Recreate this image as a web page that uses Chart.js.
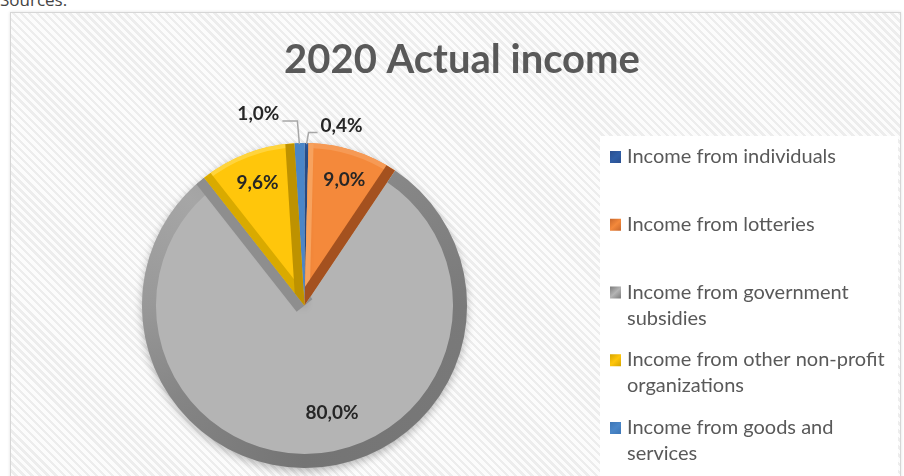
<!DOCTYPE html>
<html>
<head>
<meta charset="utf-8">
<script src="https://cdn.jsdelivr.net/npm/chart.js@4.4.1/dist/chart.umd.min.js"></script>
<style>
html,body{margin:0;padding:0;width:904px;height:476px;overflow:hidden;background:#fff;}
#src{position:absolute;left:0;top:-9px;font:17px/17px "Open Sans",sans-serif;color:#444;}
#frame{position:absolute;left:10px;top:12px;width:889px;height:480px;border:1px solid #d6d6d6;box-shadow:0 0 3px rgba(0,0,0,0.12);
 background:repeating-linear-gradient(45deg,#fcfcfc 0px,#fcfcfc 3.2px,#ededed 3.2px,#ededed 5.7px);}
#legbox{position:absolute;left:600px;top:136px;width:298px;height:340px;background:#fff;}
#wrap{position:absolute;left:0;top:0;width:904px;height:476px;}
</style>
</head>
<body>
<div id="src">Sources:</div>
<div id="frame"></div>
<div id="legbox"></div>
<div id="wrap"><canvas id="c"></canvas></div>
<script>
// ---- data ----
const chartTitle = '2020 Actual income';
const categories = [
  'Income from individuals',
  'Income from lotteries',
  'Income from government subsidies',
  'Income from other non-profit organizations',
  'Income from goods and services'
];
const shares = [0.4, 9.0, 80.0, 9.6, 1.0];

// ---- styles ----
const faceColors   = ['#2F5EA6', '#F4893B', '#B4B4B4', '#FFC60B', '#4A86C8'];
const markerColors = ['#2B4F8F', '#C8672C', '#7B7B7B', '#D5A400', '#3D76B6'];
const fmt = v => v.toFixed(1).replace('.', ',') + '%';

const bevels = [
  null,
  {outer:5, outerColor:'#F69A55', start:5, startColor:'#F7A25E', end:10, endColor:'#A4511F'},
  {outer:14, outerColor:'conic', start:0, end:10, endColor:'#8E8E8E'},
  {outer:4, outerColor:'#FFD43C', start:8, startColor:'#D9AA00', end:9, endColor:'#BE9200'},
  null
];
const labelPlacement = [
  {outside:true, dx:35, dy:-17, lineDy:6.5},
  {r:0.81, shift:0},
  {r:0.683, shift:-12.2},
  {r:0.81, shift:0},
  {outside:true, dx:-41, dy:-29, lineDy:7}
];

const decor = {
  id:'decor',
  beforeDatasetsDraw(chart){
    const ctx = chart.ctx;
    ctx.save();
    ctx.shadowColor = 'rgba(0,0,0,0.28)';
    ctx.shadowBlur = 8;
    ctx.shadowOffsetY = 3;
  },
  afterDatasetsDraw(chart){
    const ctx = chart.ctx;
    ctx.restore();
    const meta = chart.getDatasetMeta(0);
    meta.data.forEach((arc, i) => {
      const b = bevels[i];
      if (!b) return;
      const p = arc.getProps(['x','y','startAngle','endAngle','outerRadius'], true);
      const {x, y, startAngle:s, endAngle:e, outerRadius:R} = p;
      ctx.save();
      ctx.beginPath(); ctx.moveTo(x, y); ctx.arc(x, y, R, s, e); ctx.closePath(); ctx.clip();
      if (b.outer) {
        let col = b.outerColor;
        if (col === 'conic') {
          const g = ctx.createConicGradient(0, x, y);
          g.addColorStop(0, '#7A7A7A');
          g.addColorStop(0.25, '#747474');
          g.addColorStop(0.4, '#858585');
          g.addColorStop(0.5, '#989898');
          g.addColorStop(0.62, '#A6A6A6');
          g.addColorStop(0.82, '#8A8A8A');
          g.addColorStop(1, '#7A7A7A');
          col = g;
        }
        ctx.beginPath(); ctx.arc(x, y, R, s, e);
        ctx.lineWidth = b.outer * 2; ctx.strokeStyle = col; ctx.stroke();
      }
      if (b.start) {
        ctx.beginPath(); ctx.moveTo(x, y); ctx.lineTo(x + R*Math.cos(s), y + R*Math.sin(s));
        ctx.lineWidth = b.start * 2; ctx.strokeStyle = b.startColor; ctx.stroke();
      }
      if (b.end) {
        ctx.beginPath(); ctx.moveTo(x, y); ctx.lineTo(x + R*Math.cos(e), y + R*Math.sin(e));
        ctx.lineWidth = b.end * 2; ctx.strokeStyle = b.endColor; ctx.stroke();
      }
      ctx.restore();
    });

    // data labels
    ctx.save();
    ctx.font = 'bold 19px Lato';
    ctx.fillStyle = '#262626';
    ctx.textAlign = 'center';
    ctx.textBaseline = 'middle';
    meta.data.forEach((arc, i) => {
      const pl = labelPlacement[i];
      const p = arc.getProps(['x','y','startAngle','endAngle','outerRadius'], true);
      const mid = (p.startAngle + p.endAngle) / 2;
      const txt = fmt(shares[i]);
      if (pl.outside) {
        const ax = p.x + p.outerRadius*Math.cos(mid);
        const ay = p.y + p.outerRadius*Math.sin(mid);
        const lx = ax + pl.dx, ly = ay + pl.dy;
        const w = ctx.measureText(txt).width;
        const side = pl.dx > 0 ? 1 : -1;
        const ly2 = ly + pl.lineDy;
        ctx.save();
        ctx.strokeStyle = '#A6A6A6'; ctx.lineWidth = 1.5;
        ctx.beginPath();
        ctx.moveTo(lx - side*(w/2 + 3), ly2);
        ctx.lineTo(ax + side*2, ly2);
        ctx.lineTo(ax, ay + 1);
        ctx.stroke();
        ctx.restore();
        ctx.fillText(txt, lx, ly);
      } else {
        const a = mid + pl.shift*Math.PI/180;
        const r = pl.r * p.outerRadius;
        ctx.fillText(txt, p.x + r*Math.cos(a), p.y + r*Math.sin(a));
      }
    });
    ctx.restore();
  },
  afterDraw(chart){
    const ctx = chart.ctx;
    ctx.save();
    // title
    ctx.font = 'bold 40px Lato';
    ctx.fillStyle = '#595959';
    ctx.textAlign = 'center';
    ctx.textBaseline = 'alphabetic';
    ctx.fillText(chartTitle, 462, 73);
    // legend
    ctx.font = '20px Lato';
    ctx.textAlign = 'left';
    const maxW = 268;
    categories.forEach((cat, i) => {
      const base = 163 + i*67.75;
      const words = cat.split(' ');
      const lines = [];
      let cur = '';
      words.forEach(wd => {
        const t = cur ? cur + ' ' + wd : wd;
        if (ctx.measureText(t).width > maxW && cur) { lines.push(cur); cur = wd; }
        else cur = t;
      });
      lines.push(cur);
      const mx = 610, my = base - 12;
      const g = ctx.createLinearGradient(mx, my, mx + 11, my + 12);
      g.addColorStop(0, markerColors[i]);
      g.addColorStop(0.5, faceColors[i]);
      g.addColorStop(1, markerColors[i]);
      ctx.fillStyle = g;
      ctx.fillRect(mx, my, 11, 12);
      ctx.fillStyle = '#595959';
      lines.forEach((ln, k) => ctx.fillText(ln, 627, base + k*26));
    });
    ctx.restore();
  }
};

new Chart(document.getElementById('c'), {
  type: 'pie',
  data: {
    labels: categories,
    datasets: [{
      data: shares,
      backgroundColor: faceColors,
      borderWidth: 0,
      hoverOffset: 0
    }]
  },
  options: {
    responsive: true,
    maintainAspectRatio: false,
    animation: false,
    events: [],
    layout: {padding: {left: 142, right: 437, top: 143, bottom: 8}},
    plugins: {legend: {display: false}, tooltip: {enabled: false}, title: {display: false}}
  },
  plugins: [decor]
});
</script>
</body>
</html>
